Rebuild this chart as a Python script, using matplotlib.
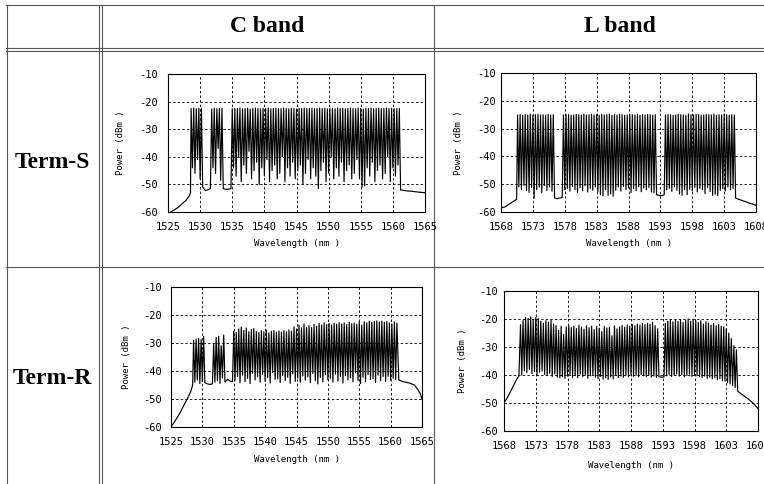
import numpy as np
import matplotlib
matplotlib.use("Agg")
import matplotlib.pyplot as plt

plt.rcParams['axes.unicode_minus'] = False

# ---------------- table text ----------------
col_titles = ["C band", "L band"]
row_titles = ["Term-S", "Term-R"]

# ---------------- axes ticks ----------------
c_xticks = [1525, 1530, 1535, 1540, 1545, 1550, 1555, 1560, 1565]
l_xticks = [1568, 1573, 1578, 1583, 1588, 1593, 1598, 1603, 1608]
y_ticks = [-60, -50, -40, -30, -20, -10]
x_label = "Wavelength (nm )"
y_label = "Power (dBm )"

nan = float('nan')

# ---------------- C band channel plan ----------------
c_pk_wl = [1528.6, 1529.0, 1529.4, 1529.8, 1530.2, 1530.6, 1531.0, 1531.4, 1531.8, 1532.2,
           1532.6, 1533.0, 1533.4, 1533.8, 1534.2, 1534.6,
           1535.0, 1535.4, 1535.8, 1536.2, 1536.6, 1537.0, 1537.4, 1537.8, 1538.2, 1538.6,
           1539.0, 1539.4, 1539.8, 1540.2, 1540.6, 1541.0, 1541.4, 1541.8, 1542.2, 1542.6,
           1543.0, 1543.4, 1543.8, 1544.2, 1544.6, 1545.0, 1545.4, 1545.8, 1546.2, 1546.6,
           1547.0, 1547.4, 1547.8, 1548.2, 1548.6, 1549.0, 1549.4, 1549.8, 1550.2, 1550.6,
           1551.0, 1551.4, 1551.8, 1552.2, 1552.6, 1553.0, 1553.4, 1553.8, 1554.2, 1554.6,
           1555.0, 1555.4, 1555.8, 1556.2, 1556.6, 1557.0, 1557.4, 1557.8, 1558.2, 1558.6,
           1559.0, 1559.4, 1559.8, 1560.2, 1560.6, 1561.0]
c_vl_wl = [1528.8, 1529.2, 1529.6, 1530.0, 1530.4, 1530.8, 1531.2, 1531.6, 1532.0, 1532.4,
           1532.8, 1533.2, 1533.6, 1534.0, 1534.4, 1534.8,
           1535.2, 1535.6, 1536.0, 1536.4, 1536.8, 1537.2, 1537.6, 1538.0, 1538.4, 1538.8,
           1539.2, 1539.6, 1540.0, 1540.4, 1540.8, 1541.2, 1541.6, 1542.0, 1542.4, 1542.8,
           1543.2, 1543.6, 1544.0, 1544.4, 1544.8, 1545.2, 1545.6, 1546.0, 1546.4, 1546.8,
           1547.2, 1547.6, 1548.0, 1548.4, 1548.8, 1549.2, 1549.6, 1550.0, 1550.4, 1550.8,
           1551.2, 1551.6, 1552.0, 1552.4, 1552.8, 1553.2, 1553.6, 1554.0, 1554.4, 1554.8,
           1555.2, 1555.6, 1556.0, 1556.4, 1556.8, 1557.2, 1557.6, 1558.0, 1558.4, 1558.8,
           1559.2, 1559.6, 1560.0, 1560.4, 1560.8]

# ---------------- L band channel plan ----------------
l_pk_wl = [1570.6, 1571.0, 1571.4, 1571.8, 1572.2, 1572.6, 1573.0, 1573.4, 1573.8, 1574.2,
           1574.6, 1575.0, 1575.4, 1575.8, 1576.2, 1576.6, 1577.0, 1577.4, 1577.8, 1578.2,
           1578.6, 1579.0, 1579.4, 1579.8, 1580.2, 1580.6, 1581.0, 1581.4, 1581.8, 1582.2,
           1582.6, 1583.0, 1583.4, 1583.8, 1584.2, 1584.6, 1585.0, 1585.4, 1585.8, 1586.2,
           1586.6, 1587.0, 1587.4, 1587.8, 1588.2, 1588.6, 1589.0, 1589.4, 1589.8, 1590.2,
           1590.6, 1591.0, 1591.4, 1591.8, 1592.2, 1592.6, 1593.0, 1593.4, 1593.8, 1594.2,
           1594.6, 1595.0, 1595.4, 1595.8, 1596.2, 1596.6, 1597.0, 1597.4, 1597.8, 1598.2,
           1598.6, 1599.0, 1599.4, 1599.8, 1600.2, 1600.6, 1601.0, 1601.4, 1601.8, 1602.2,
           1602.6, 1603.0, 1603.4, 1603.8, 1604.2, 1604.6]
l_vl_wl = [1570.8, 1571.2, 1571.6, 1572.0, 1572.4, 1572.8, 1573.2, 1573.6, 1574.0, 1574.4,
           1574.8, 1575.2, 1575.6, 1576.0, 1576.4, 1576.8, 1577.2, 1577.6, 1578.0, 1578.4,
           1578.8, 1579.2, 1579.6, 1580.0, 1580.4, 1580.8, 1581.2, 1581.6, 1582.0, 1582.4,
           1582.8, 1583.2, 1583.6, 1584.0, 1584.4, 1584.8, 1585.2, 1585.6, 1586.0, 1586.4,
           1586.8, 1587.2, 1587.6, 1588.0, 1588.4, 1588.8, 1589.2, 1589.6, 1590.0, 1590.4,
           1590.8, 1591.2, 1591.6, 1592.0, 1592.4, 1592.8, 1593.2, 1593.6, 1594.0, 1594.4,
           1594.8, 1595.2, 1595.6, 1596.0, 1596.4, 1596.8, 1597.2, 1597.6, 1598.0, 1598.4,
           1598.8, 1599.2, 1599.6, 1600.0, 1600.4, 1600.8, 1601.2, 1601.6, 1602.0, 1602.4,
           1602.8, 1603.2, 1603.6, 1604.0, 1604.4]

# ---------------- C band, Term-S ----------------
cs_left_wl = [1525.4, 1526.0, 1526.6, 1527.2, 1527.8, 1528.3, 1528.5]
cs_left_db = [-60.0, -59.2, -58.3, -57.0, -55.8, -54.2, -53.0]
cs_right_wl = [1561.2, 1562.0, 1563.0, 1564.0, 1565.0]
cs_right_db = [-52.0, -52.3, -52.5, -52.8, -53.0]
cs_pk_db = [-22.5, -22.3, -22.6, -22.4, -22.5, nan, nan, nan, -22.7, -22.4,
            -22.6, -22.5, -22.4, nan, nan, nan,
            -22.6, -22.4, -22.5, -22.3, -22.6, -22.5, -22.4, -22.7, -22.5, -22.3,
            -22.5, -22.6, -22.4, -22.5, -22.3, -22.6, -22.5, -22.4, -22.6, -22.5,
            -22.3, -22.5, -22.6, -22.4, -22.5, -22.7, -22.4, -22.5, -22.3, -22.6,
            -22.5, -22.4, -22.6, -22.5, -22.3, -22.5, -22.4, -22.6, -22.5, -22.4,
            -22.6, -22.3, -22.5, -22.4, -22.6, -22.5, -22.3, -22.5, -22.6, -22.4,
            -22.5, -22.7, -22.4, -22.5, -22.3, -22.6, -22.5, -22.4, -22.6, -22.5,
            -22.3, -22.5, -22.4, -22.6, -22.5, -22.4]
cs_vl_db = [-44.0, -46.0, -41.0, -48.0, -51.0, -52.2, -52.0, -51.5, -44.0, -46.0,
            -37.0, -48.5, -51.5, -51.8, -51.7, -51.6,
            -44, -47, -40, -49, -43, -46, -38, -48, -45, -42,
            -50, -44, -47, -41, -49, -45, -43, -48, -46, -40,
            -49, -44, -47, -42, -48, -45, -43, -50, -46, -41,
            -48, -44, -47, -51.5, -45, -42, -49, -46, -40, -48,
            -44, -47, -42, -49, -45, -43, -48, -46, -41, -48,
            -51, -50.5, -44, -47, -42, -49, -45, -43, -48, -46,
            -40, -49, -44, -47, -43]

# ---------------- C band, Term-R ----------------
cr_left_wl = [1525.0, 1525.6, 1526.3, 1527.0, 1527.7, 1528.2, 1528.45]
cr_left_db = [-60.0, -58.0, -55.5, -52.5, -49.5, -47.0, -45.0]
cr_right_wl = [1561.3, 1562.0, 1563.0, 1563.8, 1564.3, 1564.7, 1565.0]
cr_right_db = [-43.2, -43.8, -44.3, -45.0, -46.5, -48.0, -50.0]
cr_pk_db = [-29.0, -28.6, -28.4, -28.8, -27.6, nan, nan, nan, -30.5, -28.0,
            -27.6, -31.0, -27.2, nan, nan, nan,
            -25.8, -26.2, -25.0, -24.3, -25.5, -24.6, -26.0, -25.2, -24.8, -25.9,
            -26.3, -25.6, -26.0, -25.4, -26.4, -25.8, -25.5, -26.1, -25.7, -26.2,
            -25.6, -26.0, -25.3, -25.8, -24.2, -25.0, -23.6, -24.6, -23.2, -24.4,
            -23.8, -24.5, -23.4, -24.0, -23.0, -23.6, -22.8, -23.4, -23.0, -23.5,
            -22.9, -23.3, -22.7, -23.2, -22.8, -23.4, -22.6, -23.1, -22.9, -23.3,
            -22.5, -23.6, -22.4, -22.8, -22.2, -22.6, -22.3, -22.1, -22.5, -22.2,
            -22.6, -22.3, -22.8, -23.2, -22.5, -22.9]
cr_vl_db = [-44.0, -43.2, -44.5, -43.8, -44.2, -44.6, -44.8, -44.6, -44.0, -43.5,
            -44.5, -42.5, -44.0, -43.0, -43.6, -43.8,
            -43.5, -42.0, -44.2, -41.5, -43.8, -42.6, -44.5, -40.8, -43.2, -42.0,
            -44.0, -41.2, -43.6, -42.4, -44.3, -40.5, -43.0, -42.8, -44.1, -41.6,
            -43.4, -42.2, -44.4, -41.0, -43.7, -42.5, -44.0, -41.8, -43.3, -42.1,
            -44.2, -40.9, -43.5, -44.6, -42.3, -43.9, -41.4, -43.1, -42.6, -44.0,
            -41.1, -43.6, -42.0, -44.3, -41.7, -43.2, -42.4, -43.9, -40.7, -43.4,
            -44.5, -42.2, -43.8, -41.3, -43.0, -42.7, -44.1, -41.5, -43.5, -42.0,
            -43.7, -41.9, -43.3, -42.6, -43.0]

# ---------------- L band, Term-S ----------------
ls_left_wl = [1568.0, 1568.6, 1569.2, 1569.8, 1570.2, 1570.45]
ls_left_db = [-58.5, -58.2, -57.3, -56.4, -55.8, -55.5]
ls_right_wl = [1604.8, 1605.5, 1606.5, 1607.3, 1608.0]
ls_right_db = [-55.0, -55.6, -56.4, -57.0, -57.6]
ls_pk_db = [-25.1, -24.9, -25.2, -25.0, -25.1, -24.8, -25.2, -25.0, -24.9, -25.1,
            -25.0, -25.2, -24.9, -25.1, -25.0, nan, nan, nan, -25.1, -24.9,
            -25.0, -25.2, -25.1, -24.9, -25.0, -25.2, -24.8, -25.1, -25.0, -24.9,
            -25.1, -25.0, -25.2, -24.9, -25.1, -25.0, -24.8, -25.2, -25.0, -25.1,
            -24.9, -25.0, -25.2, -25.1, -24.9, -25.0, -25.1, -24.8, -25.2, -25.0,
            -25.1, -24.9, -25.0, -25.2, -25.0, nan, nan, nan, -25.1, -24.9,
            -25.0, -25.2, -25.1, -24.9, -25.0, -25.1, -25.2, -24.8, -25.0, -25.1,
            -24.9, -25.0, -25.2, -25.1, -24.9, -25.0, -25.1, -24.8, -25.2, -25.0,
            -25.1, -24.9, -25.0, -25.2, -25.0, -25.1]
ls_vl_db = [-51.0, -52.0, -50.5, -52.3, -53.0, -51.2, -55.0, -52.0, -51.0, -53.0,
            -50.5, -52.2, -51.0, -52.5, -55.0, -55.2, -55.0, -54.8, -52.0, -51.5,
            -52.5, -50.8, -52.0, -53.0, -51.2, -52.4, -50.6, -52.8, -51.5, -52.2,
            -51.0, -52.6, -53.8, -54.2, -52.0, -54.0, -53.5, -54.3, -52.2, -51.0,
            -52.5, -50.8, -52.0, -51.3, -53.0, -51.6, -52.4, -50.9, -52.7, -51.4,
            -52.0, -51.2, -52.8, -53.0, -53.8, -54.0, -54.1, -53.8, -52.0, -51.5,
            -52.6, -51.0, -52.2, -53.5, -54.0, -52.0, -53.8, -51.8, -52.4, -51.2,
            -52.8, -51.5, -52.0, -53.4, -51.2, -52.6, -54.0, -53.6, -54.1, -52.2,
            -51.6, -52.4, -51.0, -52.0, -51.5]

# ---------------- L band, Term-R ----------------
lr_left_wl = [1568.0, 1568.5, 1569.0, 1569.5, 1570.0, 1570.35]
lr_left_db = [-50.0, -48.2, -46.0, -43.8, -41.5, -40.3]
lr_right_wl = [1604.8, 1605.5, 1606.5, 1607.3, 1608.0]
lr_right_db = [-45.8, -47.0, -48.6, -50.2, -52.0]
lr_pk_db = [-22.0, -20.5, -19.4, -19.8, -19.2, -20.2, -19.5, -19.9, -20.8, -21.5,
            -20.6, -21.2, -20.4, -21.8, -22.3, -24.0, -22.6, -25.5, -22.8, -22.4,
            -23.0, -22.5, -23.4, -22.2, -22.9, -23.6, -22.4, -23.1, -22.6, -23.8,
            -22.7, -23.3, -24.5, -22.6, -23.2, -22.9, -26.0, -22.5, -23.5, -22.8,
            -22.3, -22.9, -22.1, -22.6, -21.9, -22.4, -21.8, -22.2, -21.6, -22.0,
            -21.5, -21.9, -21.2, -22.4, -23.5, nan, nan, -21.6, -20.8, -20.3,
            -21.0, -20.4, -20.9, -20.2, -21.2, -20.5, -20.0, -20.8, -20.1, -20.6,
            -21.2, -20.6, -21.8, -21.0, -21.5, -22.2, -21.6, -22.4, -22.0, -22.6,
            -22.8, -23.5, -25.0, -27.0, -29.5, -31.0]
lr_vl_db = [-40.0, -38.5, -39.2, -38.0, -39.5, -38.8, -40.1, -39.0, -38.6, -39.8,
            -40.2, -39.4, -40.5, -39.6, -40.8, -41.0, -40.6, -41.2, -40.4, -39.8,
            -40.9, -40.2, -41.0, -39.7, -40.6, -40.1, -41.2, -40.3, -39.9, -40.8,
            -41.3, -40.5, -41.5, -41.0, -41.6, -40.7, -41.4, -40.2, -40.9, -40.4,
            -40.8, -40.0, -40.6, -39.8, -40.5, -40.1, -40.7, -39.9, -40.3, -40.6,
            -40.2, -40.8, -40.4, -40.9, -40.6, -40.8, -40.7, -40.3, -39.8, -40.5,
            -40.1, -39.6, -40.4, -39.9, -40.6, -40.2, -39.7, -40.5, -40.0, -40.3,
            -40.6, -40.9, -40.4, -41.2, -40.8, -41.4, -41.0, -41.6, -41.3, -42.0,
            -42.2, -42.8, -43.2, -43.8, -44.5]


def build_trace(left_wl, left_db, pk_wl, pk_db, vl_wl, vl_db, right_wl, right_db):
    wl = np.concatenate([left_wl, pk_wl, vl_wl, right_wl]).astype(float)
    db = np.concatenate([left_db, pk_db, vl_db, right_db]).astype(float)
    keep = ~np.isnan(db)
    wl, db = wl[keep], db[keep]
    order = np.argsort(wl)
    return wl[order], db[order]


W, H = 764, 484
fig = plt.figure(figsize=(W / 100, H / 100), dpi=100)

# table frame (pixel coordinates)
bg = fig.add_axes([0, 0, 1, 1])
bg.set_xlim(0, W)
bg.set_ylim(H, 0)
bg.axis('off')
lc = '#555555'
lw = 0.8
for y in [4.5, 47.5, 50.5, 266.5]:
    bg.plot([6, W], [y, y], color=lc, lw=lw)
for x in [6.5, 98.5, 101.5, 433.5]:
    bg.plot([x, x], [4.5, H], color=lc, lw=lw)

serif = dict(family='Liberation Serif', weight='bold', fontsize=17)
bg.text(267, 26, col_titles[0], ha='center', va='center', **serif)
bg.text(620, 26, col_titles[1], ha='center', va='center', **serif)
bg.text(52, 163, row_titles[0], ha='center', va='center', **serif)
bg.text(52, 379, row_titles[1], ha='center', va='center', **serif)

mono = 'DejaVu Sans Mono'

panels = [
    # (left, top, right, bottom) px, xlim, xticks, trace, ylabel x px, xlabel y px, ytick pad pt
    ((168, 74, 425, 212), (1525, 1565), c_xticks,
     build_trace(cs_left_wl, cs_left_db, c_pk_wl, cs_pk_db, c_vl_wl, cs_vl_db, cs_right_wl, cs_right_db),
     121, 244, 7),
    ((501, 73, 756, 212), (1568, 1608), l_xticks,
     build_trace(ls_left_wl, ls_left_db, l_pk_wl, ls_pk_db, l_vl_wl, ls_vl_db, ls_right_wl, ls_right_db),
     458, 243, 3.5),
    ((171, 287, 422, 427), (1525, 1565), c_xticks,
     build_trace(cr_left_wl, cr_left_db, c_pk_wl, cr_pk_db, c_vl_wl, cr_vl_db, cr_right_wl, cr_right_db),
     127, 459, 6.5),
    ((504, 291, 758, 431), (1568, 1608), l_xticks,
     build_trace(lr_left_wl, lr_left_db, l_pk_wl, lr_pk_db, l_vl_wl, lr_vl_db, lr_right_wl, lr_right_db),
     462, 466, 4.5),
]

for (l, t, r, b), xlim, xt, (wl, db), ylx, xly, ypad in panels:
    ax = fig.add_axes([l / W, 1 - b / H, (r - l) / W, (b - t) / H])
    ax.plot(wl, db, color='k', lw=0.85)
    ax.set_xlim(*xlim)
    ax.set_ylim(-60, -10)
    ax.set_xticks(xt)
    ax.set_yticks(y_ticks)
    ax.set_xticklabels([str(v) for v in xt], family=mono, fontsize=7.5)
    ax.set_yticklabels([str(v) for v in y_ticks], family=mono, fontsize=7.5)
    ax.tick_params(axis='both', length=0)
    ax.tick_params(axis='x', pad=7)
    ax.tick_params(axis='y', pad=ypad)
    ax.grid(True, color='k', linestyle=(0, (3, 2.5)), linewidth=0.6)
    ax.set_axisbelow(True)
    for s in ax.spines.values():
        s.set_color('k')
        s.set_linewidth(0.8)
    ax.set_xlabel(x_label, family=mono, fontsize=6.5, va='center')
    ax.set_ylabel(y_label, family=mono, fontsize=6.5, va='center')
    ax.xaxis.set_label_coords(0.5, -(xly - b) / (b - t))
    ax.yaxis.set_label_coords(-(l - ylx) / (r - l), 0.5)

fig.savefig('out.png', dpi=100)
